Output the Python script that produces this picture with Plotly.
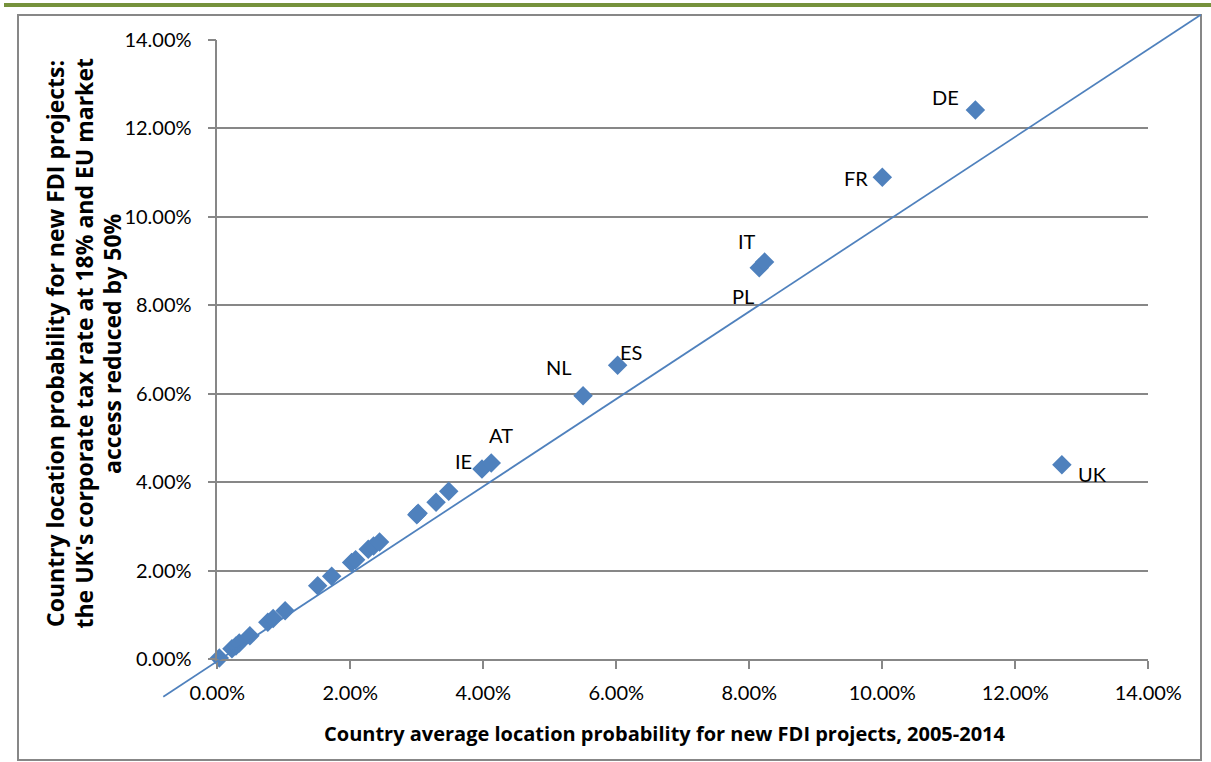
import plotly.graph_objects as go

# ---------------- data ----------------
# Country average location probability 2005-2014 (x) vs scenario probability (y)
labels = ["", "", "", "", "", "", "", "", "", "", "", "", "", "", "",
          "", "", "", "", "IE", "AT", "NL", "ES", "PL", "IT", "FR", "DE", "UK"]
x_base = [0.0003, 0.0022, 0.0028, 0.0033, 0.0049, 0.0076, 0.0084, 0.0102,
          0.0151, 0.0172, 0.0202, 0.0208, 0.0227, 0.0235, 0.0244, 0.0300,
          0.0302, 0.0329, 0.0348, 0.0398, 0.0412, 0.0550, 0.0602, 0.0815,
          0.0823, 0.1000, 0.1140, 0.1270]
y_scen = [0.0003, 0.0024, 0.0030, 0.0037, 0.0053, 0.0084, 0.0092, 0.0110,
          0.0166, 0.0188, 0.0219, 0.0225, 0.0249, 0.0256, 0.0265, 0.0327,
          0.0330, 0.0355, 0.0380, 0.0430, 0.0444, 0.0596, 0.0665, 0.0885,
          0.0898, 0.1090, 0.1242, 0.0440]

# reference diagonal (drawn line, endpoints in data units)
ref_x = [-0.00812, 0.1479]
ref_y = [-0.00846, 0.1457]

tick_vals = [0, 0.02, 0.04, 0.06, 0.08, 0.10, 0.12, 0.14]

x_title = "Country average location probability for new FDI projects, 2005-2014"
y_title_lines = ["Country location probability for new FDI projects:",
                 "the UK's corporate tax rate at 18% and EU market",
                 "access reduced by 50%"]

# ---------------- styling / layout ----------------
W, H = 1211, 762
BLUE = "#4F81BD"
GRAY = "#878787"
FONT = "Lato"
TITLE_FONT = "Open Sans"

# label offsets in pixels (dx, dy) -- style only
label_offsets = {
    "DE": (-30, 13), "FR": (-26, -1), "IT": (-18, 21), "PL": (-16, -28),
    "ES": (13, 13), "NL": (-24, 29), "AT": (10, 28), "IE": (-18, 8),
    "UK": (31, -9),
}

# main plot area in pixels
px_left, px_right = 217.3, 1148.3
py_top, py_bottom = 40.0, 659.3
xdom = [px_left / W, px_right / W]
ydom = [1 - py_bottom / H, 1 - py_top / H]
xr = [0, 0.14]
yr = [0, 0.14]

# full-figure overlay axes with identical scale (so the diagonal can extend
# beyond the plot area like in the original)
kx = (xr[1] - xr[0]) / (xdom[1] - xdom[0])
ky = (yr[1] - yr[0]) / (ydom[1] - ydom[0])
x2r = [xr[0] - xdom[0] * kx, xr[1] + (1 - xdom[1]) * kx]
y2r = [yr[0] - ydom[0] * ky, yr[1] + (1 - ydom[1]) * ky]

fig = go.Figure()

fig.add_trace(go.Scatter(
    x=x_base, y=y_scen, mode="markers",
    marker=dict(symbol="diamond", size=15, color=BLUE,
                line=dict(width=0)),
    xaxis="x", yaxis="y", showlegend=False, cliponaxis=False,
))

fig.add_trace(go.Scatter(
    x=ref_x, y=ref_y, mode="lines",
    line=dict(color=BLUE, width=1.75),
    xaxis="x2", yaxis="y2", showlegend=False, hoverinfo="skip",
))

annotations = []
for lab, xv, yv in zip(labels, x_base, y_scen):
    if not lab:
        continue
    dx, dy = label_offsets[lab]
    annotations.append(dict(
        x=xv, y=yv, xref="x", yref="y", text=lab, showarrow=False,
        xshift=dx, yshift=dy, font=dict(family=FONT, size=20, color="black"),
    ))

annotations.append(dict(
    x=665 / W, y=1 - 733 / H, xref="paper", yref="paper", text=x_title,
    showarrow=False,
    font=dict(family=TITLE_FONT, size=20, color="black", weight="bold"),
    xanchor="center", yanchor="middle",
))
for i, line in enumerate(y_title_lines):
    annotations.append(dict(
        x=(55 + 28.5 * i) / W, y=1 - 344 / H, xref="paper", yref="paper",
        text=line, showarrow=False, textangle=-90,
        font=dict(family=TITLE_FONT, size=23, color="black", weight="bold"),
        xanchor="center", yanchor="middle",
    ))

axis_common = dict(
    showline=True, linecolor=GRAY, linewidth=1.5,
    ticks="outside", ticklen=8, tickcolor=GRAY, tickwidth=1.5,
    zeroline=False, tickvals=tick_vals, tickformat=".2%",
    tickfont=dict(family=FONT, size=20, color="black"),
    automargin=False,
)

fig.update_layout(
    width=W, height=H,
    margin=dict(l=0, r=0, t=0, b=0, pad=0, autoexpand=False),
    paper_bgcolor="white", plot_bgcolor="rgba(0,0,0,0)",
    xaxis=dict(domain=xdom, range=xr, showgrid=False, anchor="y",
               ticklabelstandoff=7, **axis_common),
    yaxis=dict(domain=ydom, range=yr, showgrid=True, gridcolor=GRAY,
               gridwidth=1.5, anchor="x", ticklabelstandoff=12, **axis_common),
    xaxis2=dict(domain=[0, 1], range=x2r, visible=False, anchor="y2",
                fixedrange=True, automargin=False),
    yaxis2=dict(domain=[0, 1], range=y2r, visible=False, anchor="x2",
                fixedrange=True, automargin=False),
    annotations=annotations,
    shapes=[
        dict(type="rect", xref="paper", yref="paper",
             x0=18 / W, x1=1201 / W, y0=1 - 760 / H, y1=1 - 15 / H,
             line=dict(color=GRAY, width=2), fillcolor="rgba(0,0,0,0)",
             layer="below"),
        dict(type="rect", xref="paper", yref="paper",
             x0=4 / W, x1=1, y0=1 - 7 / H, y1=1 - 3 / H,
             line=dict(width=0), fillcolor="#76923C", layer="below"),
    ],
    font=dict(family=FONT),
)

# remove the browser's default page margin so the figure sits at (0, 0)
fig.write_html("out.html",
               config={"displayModeBar": False},
               post_script="document.body.style.margin='0px';")
